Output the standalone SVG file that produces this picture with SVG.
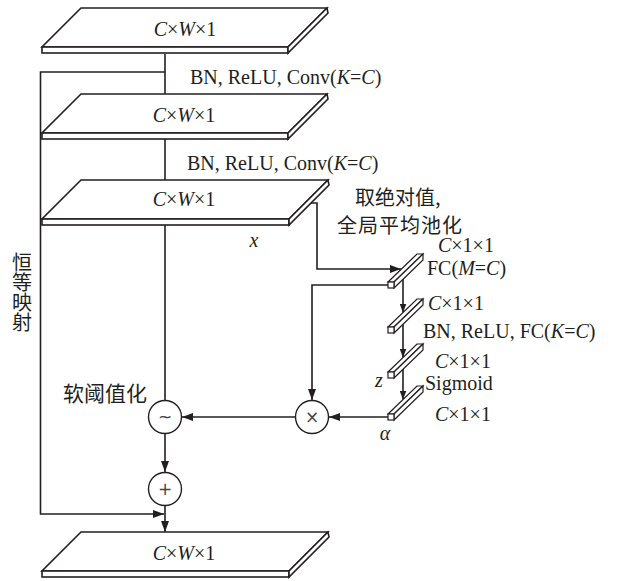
<svg xmlns="http://www.w3.org/2000/svg" width="619" height="581" viewBox="0 0 619 581">
<defs>
<style>
.slab{fill:#fff;stroke:#231f20;stroke-width:1.6;stroke-linejoin:miter}
.bar{fill:#fff;stroke:#231f20;stroke-width:1.2}
.ln{fill:none;stroke:#231f20;stroke-width:1.6}
.circ{fill:#fff;stroke:#231f20;stroke-width:1.4}
.t{font-family:"Liberation Serif","Times New Roman",serif;font-size:20px;fill:#231f20}
.i{font-style:italic}
.cjk{font-family:"Noto Sans CJK SC","Noto Sans",sans-serif;fill:#231f20}
.sym{font-family:"DejaVu Sans","Liberation Sans",sans-serif;font-size:17px;fill:#444;text-anchor:middle}
</style>
<marker id="ah" markerUnits="userSpaceOnUse" markerWidth="11" markerHeight="8" refX="11" refY="4" orient="auto">
<path d="M0,0 L11,4 L0,8 z" fill="#231f20"/>
</marker>
<marker id="ahs" markerUnits="userSpaceOnUse" markerWidth="9" markerHeight="7" refX="9" refY="3.5" orient="auto">
<path d="M0,0 L9,3.5 L0,7 z" fill="#231f20"/>
</marker>
</defs>

<g id="connectors">
<path class="ln" d="M165,54 V94"/>
<path class="ln" d="M165,139 V180"/>
<path class="ln" d="M165,225 V400.5"/>
<path class="ln" d="M165,72 H40.5 V514 H164" marker-end="url(#ah)"/>
<path class="ln" d="M165,433.5 V472" marker-end="url(#ah)"/>
<path class="ln" d="M165,505.5 V532" marker-end="url(#ah)"/>
<path class="ln" d="M310,203 H317 V269 H401" marker-end="url(#ah)"/>
<path class="ln" d="M388,285 H312 V400" marker-end="url(#ah)"/>
<path class="ln" d="M388,417 H329" marker-end="url(#ah)"/>
<path class="ln" d="M295.5,417 H182" marker-end="url(#ah)"/>
<path class="ln" d="M403,279 V312.5" marker-end="url(#ahs)"/>
<path class="ln" d="M403,324 V357.5" marker-end="url(#ahs)"/>
<path class="ln" d="M403,369 V399.5" marker-end="url(#ahs)"/>
</g>

<g id="slab1">
<polygon class="slab" points="81,8 327,8 288,47 42,47"/>
<rect class="slab" x="42" y="47" width="246" height="6"/>
<polygon class="slab" points="288,47 327,8 328,13 288,53"/>
<text class="t" x="185" y="36" text-anchor="middle"><tspan class="i">C</tspan>×<tspan class="i">W</tspan>×1</text>
</g>
<g id="label-conv1"><text class="t" x="190" y="84">BN, ReLU, Conv(<tspan class="i">K</tspan>=<tspan class="i">C</tspan>)</text></g>

<g id="slab2">
<polygon class="slab" points="81,94 327,94 288,133 42,133"/>
<rect class="slab" x="42" y="133" width="246" height="6"/>
<polygon class="slab" points="288,133 327,94 328,99 288,139"/>
<text class="t" x="184" y="122" text-anchor="middle"><tspan class="i">C</tspan>×<tspan class="i">W</tspan>×1</text>
</g>
<g id="label-conv2"><text class="t" x="187" y="170">BN, ReLU, Conv(<tspan class="i">K</tspan>=<tspan class="i">C</tspan>)</text></g>

<g id="slab3">
<polygon class="slab" points="81,180 328,180 289,219 42,219"/>
<rect class="slab" x="42" y="219" width="247" height="6"/>
<polygon class="slab" points="289,219 328,180 329,185 289,225"/>
<text class="t" x="184" y="206" text-anchor="middle"><tspan class="i">C</tspan>×<tspan class="i">W</tspan>×1</text>
</g>
<g id="label-x"><text class="t i" x="254" y="247" text-anchor="middle">x</text></g>

<g id="label-gap">
<text class="cjk" x="355" y="205" font-size="20">取绝对值,</text>
<text class="cjk" x="337" y="233" font-size="20" letter-spacing="1">全局平均池化</text>
</g>

<g id="bar1">
<polygon class="bar" points="388,282 417,254 423,254 394,282"/>
<polygon class="bar" points="394,282 423,254 423,260 394,288"/>
<rect class="bar" x="388" y="282" width="6" height="6"/>
<text class="t" x="438" y="252"><tspan class="i">C</tspan>×1×1</text>
<text class="t" x="427" y="275">FC(<tspan class="i">M</tspan>=<tspan class="i">C</tspan>)</text>
</g>

<g id="bar2">
<polygon class="bar" points="388,327 417,299 423,299 394,327"/>
<polygon class="bar" points="394,327 423,299 423,305 394,333"/>
<rect class="bar" x="388" y="327" width="6" height="6"/>
<text class="t" x="428" y="310"><tspan class="i">C</tspan>×1×1</text>
<text class="t" x="423" y="338">BN, ReLU, FC(<tspan class="i">K</tspan>=<tspan class="i">C</tspan>)</text>
</g>

<g id="bar3">
<polygon class="bar" points="388,372 417,344 423,344 394,372"/>
<polygon class="bar" points="394,372 423,344 423,350 394,378"/>
<rect class="bar" x="388" y="372" width="6" height="6"/>
<text class="t" x="435" y="368"><tspan class="i">C</tspan>×1×1</text>
<text class="t i" x="379" y="387" text-anchor="middle">z</text>
<text class="t" x="425" y="390">Sigmoid</text>
</g>

<g id="bar4">
<polygon class="bar" points="388,414 417,386 423,386 394,414"/>
<polygon class="bar" points="394,414 423,386 423,392 394,420"/>
<rect class="bar" x="388" y="414" width="6" height="6"/>
<text class="t" x="435" y="421"><tspan class="i">C</tspan>×1×1</text>
<text class="t i" x="385" y="440" text-anchor="middle">α</text>
</g>

<g id="multiply">
<circle class="circ" cx="312" cy="417" r="16.5"/>
<text class="sym" x="312" y="423">×</text>
</g>

<g id="soft-threshold">
<circle class="circ" cx="165" cy="417" r="16.5"/>
<text class="sym" x="165" y="423">~</text>
<text class="cjk" x="63" y="401" font-size="21">软阈值化</text>
</g>

<g id="add">
<circle class="circ" cx="165" cy="489" r="16.5"/>
<text class="sym" x="165" y="495">+</text>
</g>

<g id="label-identity">
<text class="cjk" font-size="20" x="22" y="252" writing-mode="vertical-rl" text-anchor="start">恒等映射</text>
</g>

<g id="slab4">
<polygon class="slab" points="81,532 328,532 289,571 42,571"/>
<rect class="slab" x="42" y="571" width="247" height="6"/>
<polygon class="slab" points="289,571 328,532 329,537 289,577"/>
<text class="t" x="184" y="560" text-anchor="middle"><tspan class="i">C</tspan>×<tspan class="i">W</tspan>×1</text>
</g>
</svg>
